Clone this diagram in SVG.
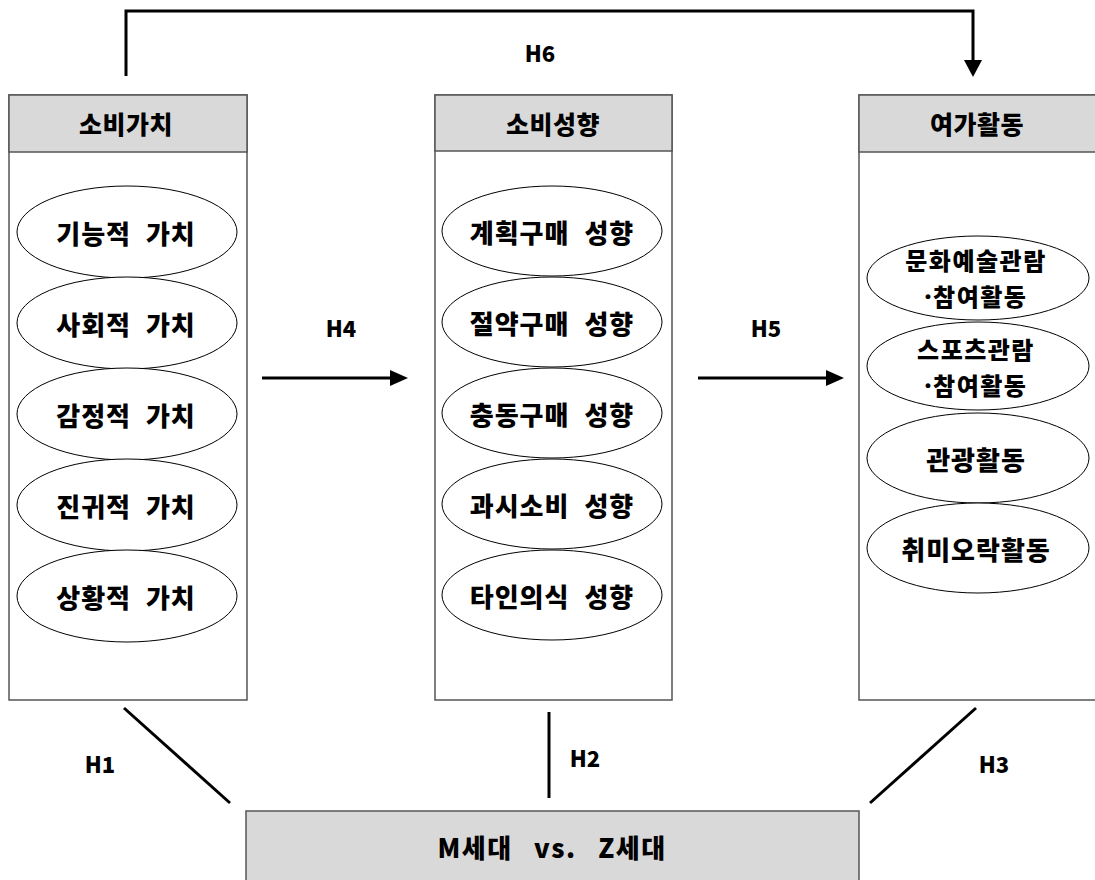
<svg xmlns="http://www.w3.org/2000/svg" width="1095" height="880" viewBox="0 0 1095 880">
<defs>
<style>
.box{fill:#ffffff;stroke:#555555;stroke-width:1.5}
.hdr{fill:#d9d9d9;stroke:#555555;stroke-width:1.5}
.ell{fill:#ffffff;stroke:#000000;stroke-width:1}
.t{font-family:"Noto Sans CJK KR","Malgun Gothic",sans-serif;font-weight:900;font-size:26px;fill:#000000;text-anchor:middle;dominant-baseline:central}
.e{letter-spacing:1px;word-spacing:8px}
.two{font-size:24px;letter-spacing:1.5px}
.h{letter-spacing:0.5px;font-size:25px}
.dot{font-family:"Noto Sans",sans-serif}
.lbl{font-family:"Noto Sans CJK KR",sans-serif;font-weight:900;font-size:22px;fill:#000000;text-anchor:middle;dominant-baseline:central}
.ln{stroke:#000000;stroke-width:3;fill:none}
</style>
</defs>
<rect width="1095" height="880" fill="#ffffff"/>

<g id="connectors">
<path class="ln" d="M126,76 V11 H973 V62"/>
<path d="M964,60 L982,60 L973,77 Z" fill="#000000"/>
<text class="lbl" x="540" y="52">H6</text>
<line class="ln" x1="262" y1="378" x2="392" y2="378"/>
<path d="M390,370 L408,378 L390,386 Z" fill="#000000"/>
<text class="lbl" x="341" y="327">H4</text>
<line class="ln" x1="698" y1="378" x2="828" y2="378"/>
<path d="M826,370 L844,378 L826,386 Z" fill="#000000"/>
<text class="lbl" x="766" y="327">H5</text>
<line class="ln" x1="124" y1="708" x2="230" y2="803"/>
<text class="lbl" x="100" y="763">H1</text>
<line class="ln" x1="549" y1="712" x2="549" y2="798"/>
<text class="lbl" x="585" y="757">H2</text>
<line class="ln" x1="976" y1="708" x2="870" y2="803"/>
<text class="lbl" x="994" y="763">H3</text>
</g>

<g id="node-value">
<rect class="box" x="9" y="95" width="238" height="605"/>
<rect class="hdr" x="9" y="95" width="238" height="57"/>
<text class="t h" x="126" y="123">소비가치</text>
<ellipse class="ell" cx="127" cy="232" rx="110" ry="46"/>
<text class="t e" x="126" y="232">기능적 가치</text>
<ellipse class="ell" cx="127" cy="323" rx="110" ry="46"/>
<text class="t e" x="126" y="323">사회적 가치</text>
<ellipse class="ell" cx="127" cy="414" rx="110" ry="46"/>
<text class="t e" x="126" y="414">감정적 가치</text>
<ellipse class="ell" cx="127" cy="505" rx="110" ry="46"/>
<text class="t e" x="126" y="505">진귀적 가치</text>
<ellipse class="ell" cx="127" cy="596" rx="110" ry="46"/>
<text class="t e" x="126" y="596">상황적 가치</text>
</g>

<g id="node-tendency">
<rect class="box" x="435" y="95" width="237" height="605"/>
<rect class="hdr" x="435" y="95" width="237" height="56"/>
<text class="t h" x="553" y="123">소비성향</text>
<ellipse class="ell" cx="552" cy="231" rx="110" ry="45"/>
<text class="t e" x="552" y="231">계획구매 성향</text>
<ellipse class="ell" cx="552" cy="322" rx="110" ry="45"/>
<text class="t e" x="552" y="322">절약구매 성향</text>
<ellipse class="ell" cx="552" cy="413" rx="110" ry="45"/>
<text class="t e" x="552" y="413">충동구매 성향</text>
<ellipse class="ell" cx="552" cy="504" rx="110" ry="45"/>
<text class="t e" x="552" y="504">과시소비 성향</text>
<ellipse class="ell" cx="552" cy="595" rx="110" ry="45"/>
<text class="t e" x="552" y="595">타인의식 성향</text>
</g>

<g id="node-leisure">
<rect class="box" x="859" y="95" width="237" height="605"/>
<rect class="hdr" x="859" y="95" width="237" height="57"/>
<text class="t h" x="977" y="123">여가활동</text>
<ellipse class="ell" cx="978" cy="278" rx="111" ry="42"/>
<text class="t two" x="976" y="259">문화예술관람</text>
<text class="t two" x="976" y="295"><tspan class="dot">·</tspan>참여활동</text>
<ellipse class="ell" cx="978" cy="366" rx="111" ry="44"/>
<text class="t two" x="976" y="348">스포츠관람</text>
<text class="t two" x="976" y="384"><tspan class="dot">·</tspan>참여활동</text>
<ellipse class="ell" cx="978" cy="458" rx="111" ry="45"/>
<text class="t e" x="976" y="458">관광활동</text>
<ellipse class="ell" cx="978" cy="548" rx="111" ry="45"/>
<text class="t e" x="976" y="548">취미오락활동</text>
</g>

<g id="node-generation">
<rect class="hdr" x="246" y="811" width="613" height="80"/>
<text class="t" x="552" y="846" style="word-spacing:14px;letter-spacing:1.5px">M세대 vs. Z세대</text>
</g>
</svg>
